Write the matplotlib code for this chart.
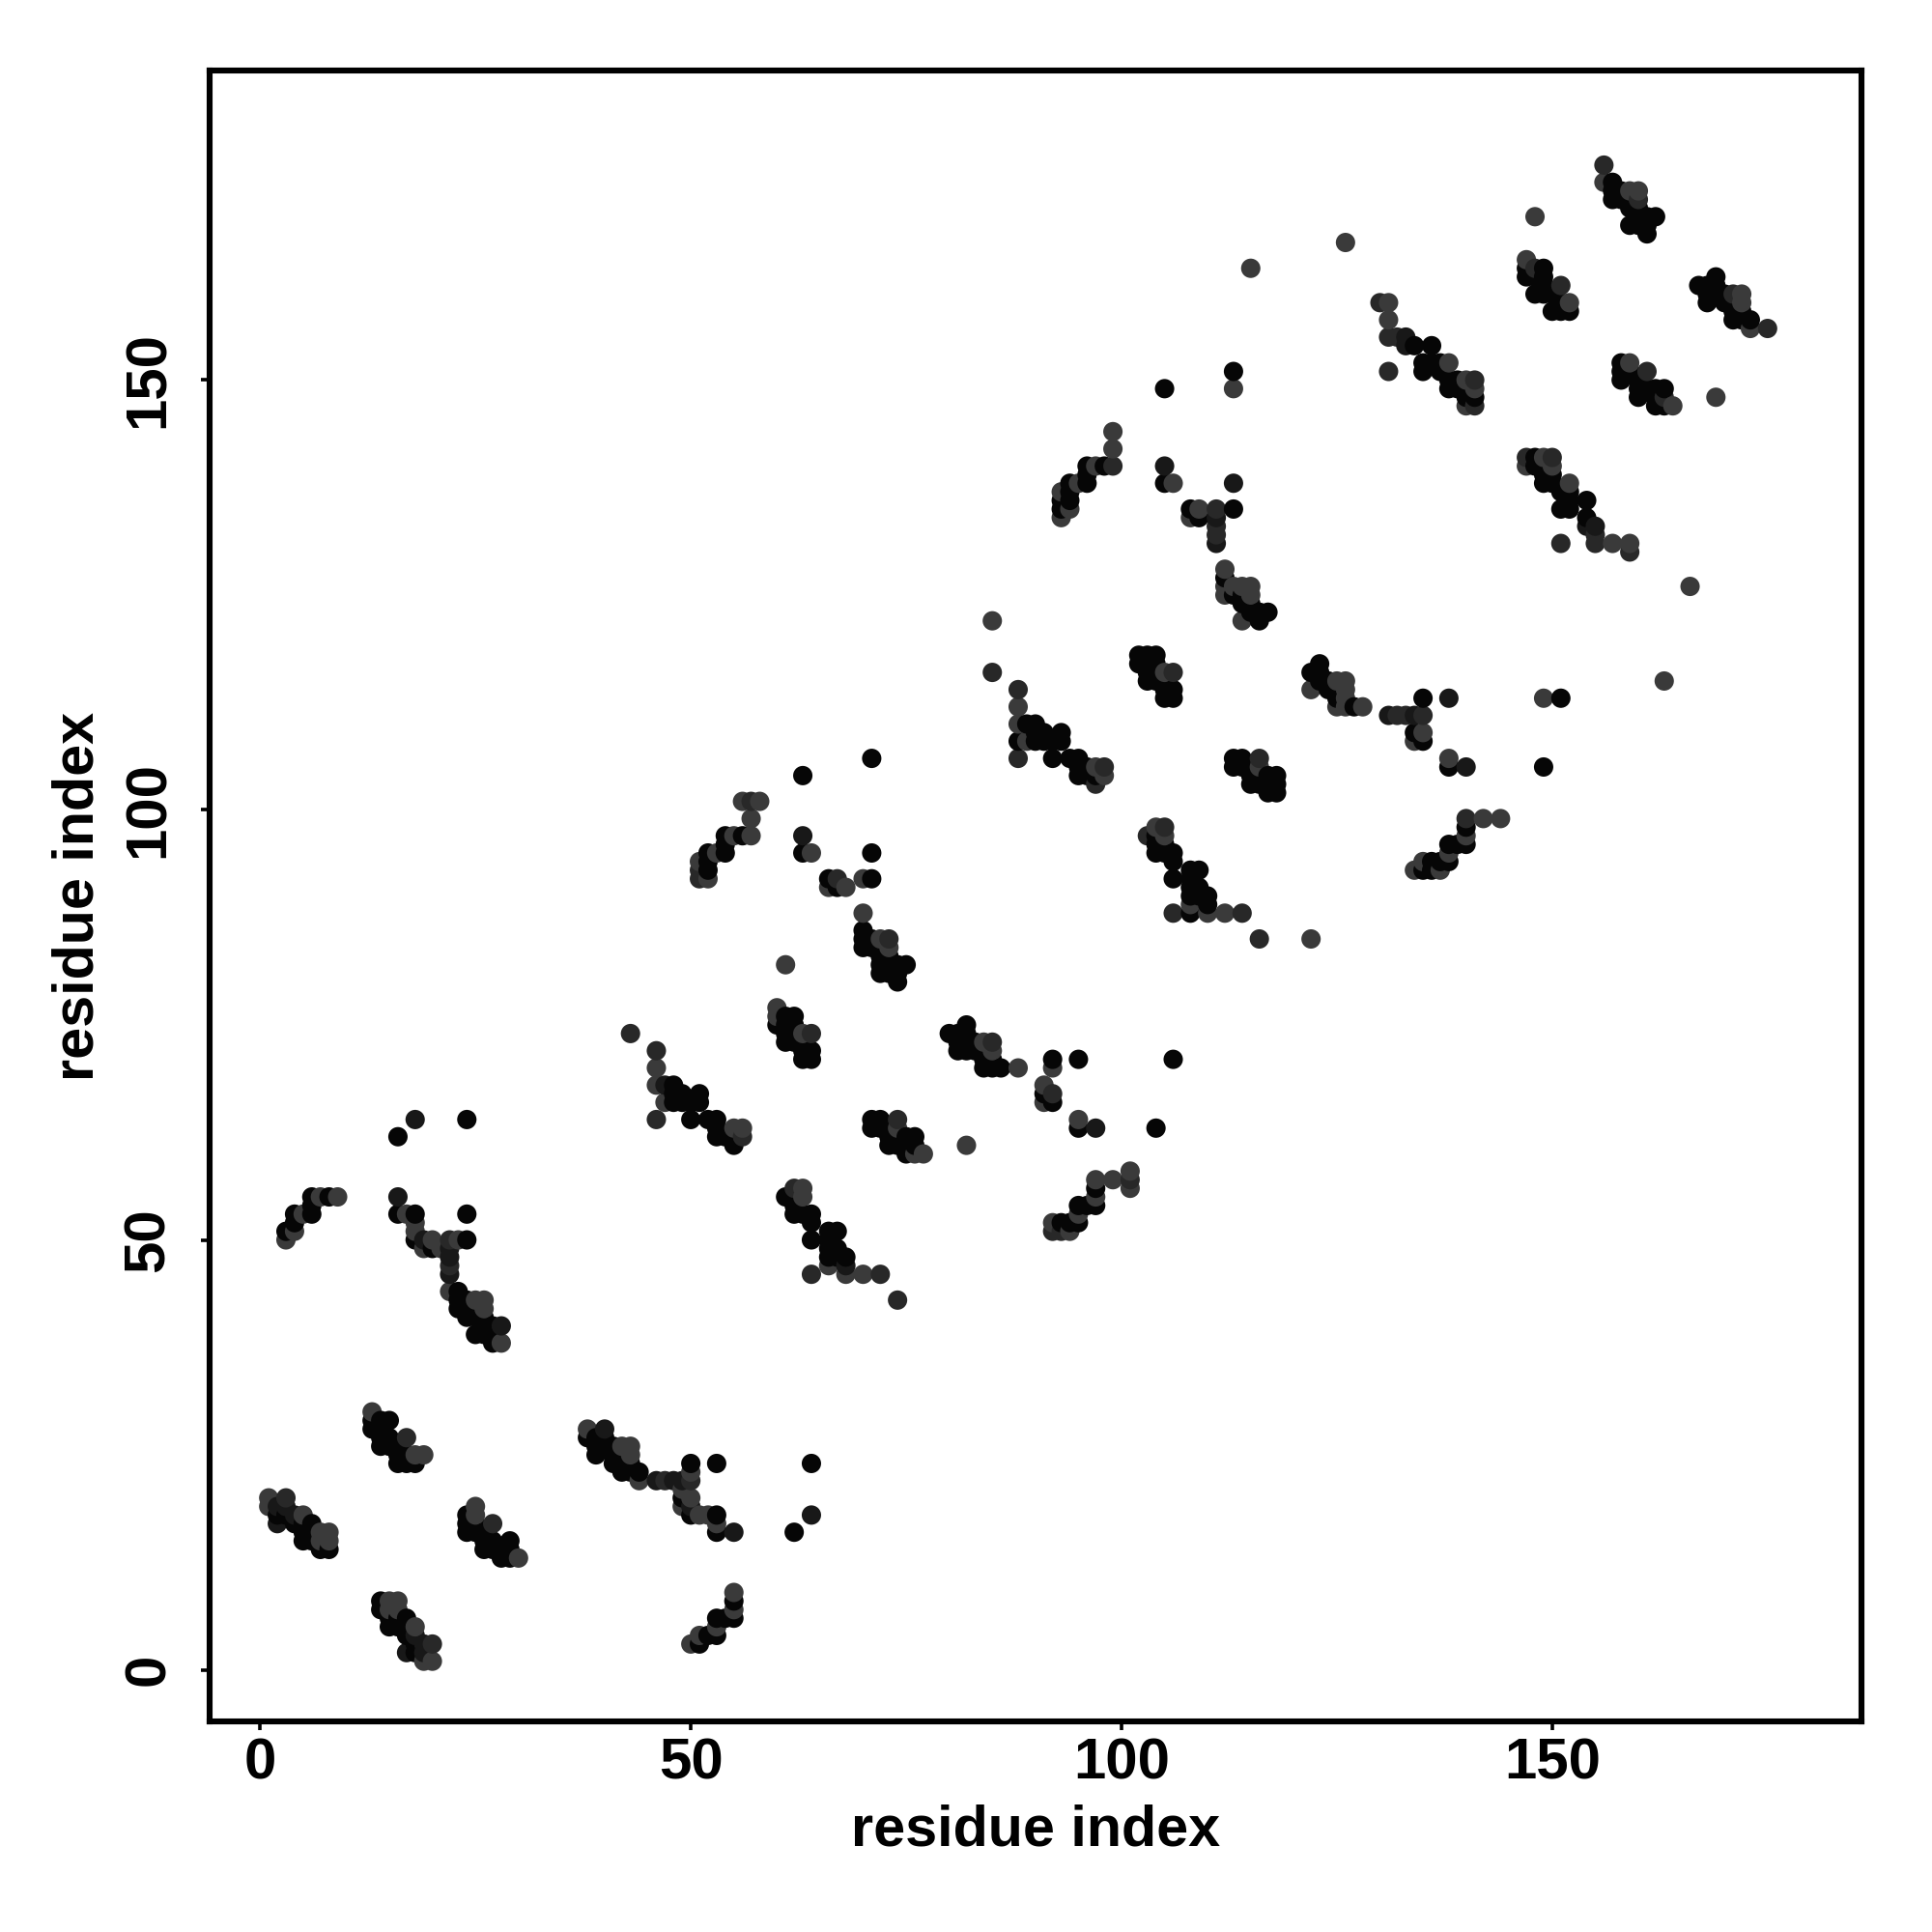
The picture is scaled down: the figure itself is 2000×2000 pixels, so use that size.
import matplotlib
matplotlib.use("Agg")
import matplotlib.pyplot as plt

# upper-triangle contacts (i, j) grouped by shade; the map is symmetric
contacts_black = [
    (2,18),(3,18),(4,17),(5,17),(5,16),(6,17),(6,16),(5,15),(6,15),(7,14),(8,14),
    (13,29),(13,28),(14,29),(15,29),(14,28),(14,27),(14,26),(15,27),(15,26),(16,26),(16,25),(17,25),(16,24),(17,24),(18,24),
    (3,51),(4,52),(4,53),(6,53),(6,54),(6,55),(8,55),
    (16,53),(18,53),(24,53),(24,50),(18,50),(20,49),(16,62),(24,64),
    (23,44),(23,43),(23,42),(24,43),(24,42),(25,42),(25,41),(26,41),(26,40),(27,40),(25,39),(26,39),(27,39),(27,38),(24,41),
    (48,68),(48,67),(48,66),(49,67),(49,66),(50,66),(51,67),(51,66),(50,64),(52,64),(53,64),(53,63),(53,62),(54,62),(55,62),(55,61),
    (60,75),(61,73),(61,74),(61,75),(61,76),(62,73),(62,74),(62,75),(62,76),(63,71),(63,72),(63,73),(64,71),(64,72),
    (52,93),(52,94),(52,95),(54,95),(54,96),(54,97),(56,97),(63,95),(63,104),(71,92),(71,95),(71,106),(66,92),(67,91),
    (70,84),(70,85),(70,86),(71,84),(71,85),(72,81),(72,82),(72,83),(73,81),(73,82),(73,83),(74,80),(74,81),(74,82),(75,82),(72,84),
    (88,108),(90,108),(90,109),(90,110),(89,110),(91,108),(91,109),(92,108),(93,108),(93,109),(92,106),(94,106),(95,106),(95,105),(95,104),(96,104),(96,105),(97,104),
    (102,117),(102,118),(103,118),(104,118),(103,117),(103,116),(103,115),(104,116),(104,115),(105,114),(105,113),(106,114),(106,113),(104,117),
    (93,135),(94,136),(93,136),(94,137),(94,138),(96,138),(96,139),(96,140),(98,140),(105,138),(108,135),(109,134),(113,135),(105,149),(113,151),
    (116,122),(116,123),(117,123),(115,123),(115,124),(114,124),(114,125),(113,125),(112,127),
    (135,151),(135,152),(136,152),(137,152),(137,151),(138,150),(138,149),(139,149),(140,149),(140,148),(141,148),(136,154),(134,154),
    (148,141),(148,140),(149,140),(149,138),(150,139),(150,138),(151,137),(152,137),(151,135),(152,135),(152,136),(154,136),(154,134),(154,133),(155,133),(155,132),(155,131),(149,105),(151,113),
    (147,163),(147,162),(148,162),(149,163),(149,162),(148,160),(149,161),(149,160),(150,160),(150,158),(151,159),(151,158),(152,158),
    (157,173),(157,172),(157,171),(158,172),(158,171),(159,171),(159,170),(160,170),(161,169),(162,169),(160,169),(159,168),(160,168),(161,167),(161,168),
]
contacts_dark = [
    (2,17),(4,18),(2,19),(3,19),(16,55),(18,64),(63,97),(105,140),(113,138),(133,155),(133,154),
    (111,134),(111,131),(22,49),(22,48),(22,46),(28,40),(19,50),(47,68),(141,147),
]
contacts_mid = [
    (3,20),(17,27),(22,50),(22,47),(43,74),(46,72),(46,64),(56,62),(64,74),(57,101),(51,92),(51,93),(67,92),(73,85),
    (103,97),(88,114),(88,106),(106,116),(98,104),(98,105),(85,116),(99,140),(111,135),(111,133),(111,132),
    (130,159),(131,155),(132,155),(131,151),(141,150),(147,141),(150,141),(151,161),(148,163),(156,175),(160,171),
]
contacts_light = [
    (1,20),(1,19),(5,18),(7,15),(8,15),(7,16),(8,16),(13,30),(18,25),(19,25),
    (3,50),(4,51),(5,53),(7,55),(9,55),(17,53),(18,52),(18,51),(20,50),(19,49),(21,49),(23,50),
    (22,44),(25,43),(26,43),(26,42),(28,38),(46,70),(46,68),(47,66),(55,63),(56,63),(60,77),(60,76),(63,74),(61,82),
    (52,92),(51,94),(53,95),(55,97),(57,97),(57,99),(56,101),(58,101),(64,95),(70,88),(70,92),(66,91),(68,91),(72,85),(73,84),
    (88,112),(88,110),(89,108),(97,105),(85,122),(105,116),(99,144),(99,142),(93,134),(94,135),(93,137),(95,138),(97,140),
    (104,98),(105,97),(112,128),(112,126),(112,125),(113,126),(114,126),(115,125),(115,126),(114,122),(109,135),(108,134),(106,138),
    (113,149),(115,163),(126,166),(148,169),(147,164),(152,159),(159,172),(160,172),(156,173),(138,152),(131,157),(131,159),
    (140,150),(141,149),(140,147),(147,140),(149,141),(150,140),(149,113),(163,115),
    (135,109),(134,108),
]
shade_levels = ["#060606", "#181818", "#282828", "#3a3a3a"]
tick_values = [0, 50, 100, 150]
axis_label = "residue index"

shade_of = {}
for group, colour in zip([contacts_black, contacts_dark, contacts_mid, contacts_light], shade_levels):
    for i, j in group:
        a, b = min(i, j), max(i, j)
        shade_of[(a, b)] = colour
        shade_of[(b, a)] = colour

# drawn in order of x, then y
points = sorted(shade_of)
xs = [p[0] for p in points]
ys = [p[1] for p in points]
cs = [shade_of[p] for p in points]

plt.rcParams["font.family"] = ["Liberation Sans", "DejaVu Sans"]
plt.rcParams["font.weight"] = "bold"

fig = plt.figure(figsize=(10, 10), dpi=200)
ax = fig.add_axes([217/2000, 1 - 1782/2000, (1927-217)/2000, (1782-73)/2000])
ax.scatter(xs, ys, c=cs, s=52, linewidths=0, zorder=3)
ax.set_xlim(-5.86, 185.9)
ax.set_ylim(-6.0, 186.0)
ax.set_xticks(tick_values)
ax.set_yticks(tick_values)
ax.tick_params(axis="both", length=3.2, width=1.3, labelsize=21.6, color="black")
ax.tick_params(axis="x", pad=2.7)
ax.tick_params(axis="y", pad=9.4)
for t in ax.get_yticklabels():
    t.set_rotation(90)
    t.set_va("center")
for s in ax.spines.values():
    s.set_linewidth(2.2)
ax.set_xlabel(axis_label, fontsize=21.4, fontweight="bold", labelpad=5)
ax.set_ylabel(axis_label, fontsize=21.4, fontweight="bold", labelpad=6.6)
fig.savefig("out.png", dpi=200, facecolor="white")
